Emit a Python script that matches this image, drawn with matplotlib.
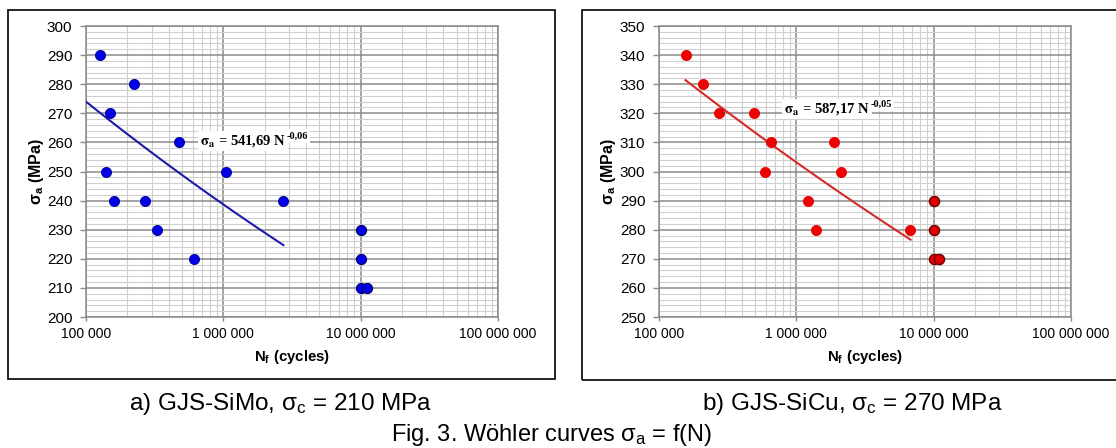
import numpy as np
import matplotlib
matplotlib.use('Agg')
import matplotlib.pyplot as plt
from matplotlib.patches import Rectangle
from matplotlib.ticker import FixedLocator, FixedFormatter, NullFormatter

plt.rcParams['font.family'] = ['Liberation Sans', 'DejaVu Sans']
plt.rcParams['mathtext.fontset'] = 'custom'
plt.rcParams['mathtext.rm'] = 'Liberation Sans'
plt.rcParams['mathtext.it'] = 'Liberation Sans:italic'
plt.rcParams['mathtext.bf'] = 'Liberation Sans:bold'

# ---------------- data ----------------
simo_n = [127000, 222000, 149000, 477000, 139000, 1050000, 160000, 268000, 2740000, 327000, 610000]
simo_s = [290, 280, 270, 260, 250, 250, 240, 240, 240, 230, 220]
simo_runout_n = [1.0e7, 1.0e7, 1.0e7, 1.107e7]
simo_runout_s = [230, 220, 210, 210]
simo_trend_n = [1.0e5, 2.74e6]
simo_trend_s = [274.0, 224.7]

sicu_n = [156000, 208000, 274000, 494000, 652000, 594000, 1866000, 2130000, 1210000, 1390000, 6780000]
sicu_s = [340, 330, 320, 320, 310, 300, 310, 300, 290, 280, 280]
sicu_runout_n = [1.0e7, 1.0e7, 1.0e7, 1.1e7]
sicu_runout_s = [290, 280, 270, 270]
sicu_trend_n = [1.56e5, 6.78e6]
sicu_trend_s = [331.4, 276.6]

x_ticks = [1e5, 1e6, 1e7, 1e8]
x_ticklabels = ['100 000', '1 000 000', '10 000 000', '100 000 000']
simo_yticks = list(range(200, 301, 10))
sicu_yticks = list(range(250, 351, 10))

simo_eq = (r'$\mathbf{\sigma_a}$ = 541,69 N', '-0,06')
sicu_eq = (r'$\mathbf{\sigma_a}$ = 587,17 N', '-0,05')
caption_a = r'a) GJS-SiMo, $\mathrm{\sigma_c}$ = 210 MPa'
caption_b = r'b) GJS-SiCu, $\mathrm{\sigma_c}$ = 270 MPa'
fig_title = r'Fig. 3. Wöhler curves $\mathrm{\sigma_a}$ = f(N)'
ylabel = r'$\mathbf{\sigma_a}$ (MPa)'
xlabel = r'$\mathbf{N_f}$ (cycles)'

# ---------------- figure ----------------
W, H = 1116, 448
fig = plt.figure(figsize=(W / 100, H / 100), dpi=100)
fig.patch.set_facecolor('white')

def px_rect(x0, y0, x1, y1):
    return [x0 / W, 1 - y1 / H, (x1 - x0) / W, (y1 - y0) / H]

MAJ = '#8a8a8a'
MIN = '#cfcfcf'

def power_curve(ns, ss):
    b = np.log(ss[1] / ss[0]) / np.log(ns[1] / ns[0])
    a = ss[0] / ns[0] ** b
    n = np.geomspace(ns[0], ns[1], 60)
    return n, a * n ** b

def setup(ax, yticks):
    ax.set_xscale('log')
    ax.set_xlim(x_ticks[0], x_ticks[-1])
    ax.set_ylim(yticks[0], yticks[-1])
    ax.xaxis.set_major_locator(FixedLocator(x_ticks))
    ax.xaxis.set_major_formatter(FixedFormatter(x_ticklabels))
    minors = [m * d for d in x_ticks[:-1] for m in range(2, 10)]
    ax.xaxis.set_minor_locator(FixedLocator(minors))
    ax.xaxis.set_minor_formatter(NullFormatter())
    ax.yaxis.set_major_locator(FixedLocator(yticks))
    ax.yaxis.set_minor_locator(FixedLocator(np.arange(yticks[0], yticks[-1] + 0.1, 2)))
    ax.grid(which='minor', color=MIN, linewidth=0.8, zorder=0)
    ax.grid(which='major', color=MAJ, linewidth=1.1, zorder=0)
    ax.set_axisbelow(True)
    for sp in ax.spines.values():
        sp.set_color(MAJ)
        sp.set_linewidth(1.1)
    ax.tick_params(axis='y', which='major', direction='out', length=4.3, width=1.0,
                   color=MAJ, pad=5.5, labelsize=11)
    ax.tick_params(axis='x', which='major', direction='out', length=3, width=1.0,
                   color=MAJ, pad=4, labelsize=10)
    ax.tick_params(which='minor', length=0)

def equation(ax, x, y, parts):
    main, sup = parts
    t = ax.text(x, y, main, transform=ax.transAxes, ha='left', va='center',
                family='Liberation Serif', weight='bold', fontsize=10.5,
                math_fontfamily='stix',
                bbox=dict(facecolor='white', edgecolor='none', pad=1.5), zorder=5)
    fig.canvas.draw()
    bb = t.get_window_extent()
    inv = ax.transAxes.inverted()
    x1, _ = inv.transform((bb.x1, bb.y0))
    _, ym = inv.transform((bb.x1, (bb.y0 + bb.y1) / 2 + 5))
    ax.text(x1 + 0.002, ym, sup, transform=ax.transAxes, ha='left', va='center',
            family='Liberation Serif', weight='bold', fontsize=7.5,
            bbox=dict(facecolor='white', edgecolor='none', pad=1.5), zorder=5)

# frames
fig.patches.append(Rectangle((8 / W, 1 - 379 / H), (555 - 8) / W, (379 - 10) / H,
                             transform=fig.transFigure, fill=False, edgecolor='black',
                             linewidth=1.2, zorder=0))
fig.patches.append(Rectangle((582 / W, 1 - 380 / H), (1130 - 582) / W, (380 - 10) / H,
                             transform=fig.transFigure, fill=False, edgecolor='black',
                             linewidth=1.2, zorder=0, clip_on=False))

# left panel
ax1 = fig.add_axes(px_rect(86, 26, 498, 317))
setup(ax1, simo_yticks)
n, s = power_curve(simo_trend_n, simo_trend_s)
ax1.plot(n, s, color='#1c1ca8', linewidth=1.5, zorder=3)
ax1.plot(simo_n, simo_s, 'o', color='#0000e6', markeredgecolor='#00008b',
         markeredgewidth=0.6, markersize=7.3, zorder=4, clip_on=False)
ax1.plot(simo_runout_n, simo_runout_s, 'o', color='#0000e6', markeredgecolor='#00005a',
         markeredgewidth=0.8, markersize=7.3, zorder=4, clip_on=False)

# right panel
ax2 = fig.add_axes(px_rect(659, 26, 1071, 317))
setup(ax2, sicu_yticks)
n, s = power_curve(sicu_trend_n, sicu_trend_s)
ax2.plot(n, s, color='#d42a2a', linewidth=1.5, zorder=3)
ax2.plot(sicu_n, sicu_s, 'o', color='#f00000', markeredgecolor='#e00000',
         markeredgewidth=0.6, markersize=7.3, zorder=4, clip_on=False)
ax2.plot(sicu_runout_n, sicu_runout_s, 'o', color='#e00000', markeredgecolor='#6a0000',
         markeredgewidth=1.0, markersize=7.3, zorder=4, clip_on=False)

equation(ax1, 0.276, 0.605, simo_eq)
equation(ax2, 0.303, 0.715, sicu_eq)

# axis labels
for xc, yc in [(36, 172), (609, 172)]:
    fig.text(xc / W, 1 - yc / H, ylabel, rotation=90, ha='center', va='center',
             fontsize=11.5, weight='bold')
for xc in [292, 865]:
    fig.text(xc / W, 1 - 357 / H, xlabel, ha='center', va='center',
             fontsize=10.8, weight='bold')

# captions
fig.text(281 / W, 1 - 410 / H, caption_a, ha='center', va='baseline', fontsize=17.5)
fig.text(852 / W, 1 - 410 / H, caption_b, ha='center', va='baseline', fontsize=17.5)
fig.text(552 / W, 1 - 441 / H, fig_title, ha='center', va='baseline', fontsize=17)

fig.savefig('out.png', dpi=100, facecolor='white')
